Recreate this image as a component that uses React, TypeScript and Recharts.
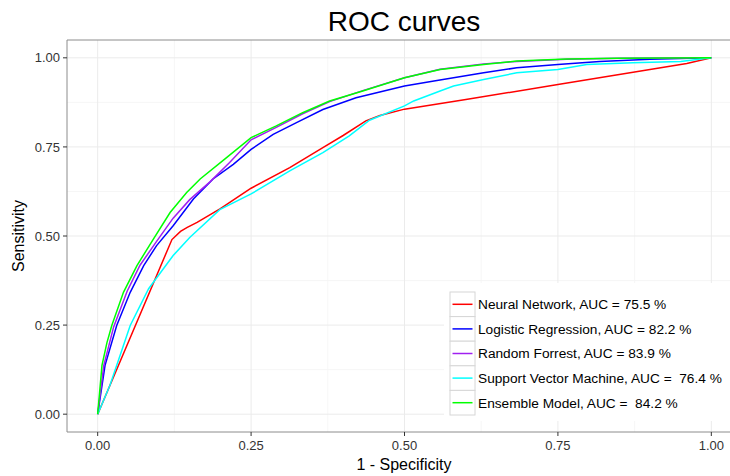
import React from 'react';
import { LineChart, Line, XAxis, YAxis, CartesianGrid, ReferenceArea } from 'recharts';

// ROC points: [1 - specificity, sensitivity]
const neuralNetwork: [number, number][] = [
  [0, 0], [0.121, 0.49], [0.135, 0.513], [0.146, 0.524], [0.162, 0.538], [0.2, 0.577],
  [0.25, 0.634], [0.313, 0.692], [0.367, 0.748], [0.4, 0.782], [0.437, 0.823], [0.46, 0.838],
  [0.5, 0.856], [0.6, 0.883], [0.75, 0.925], [0.9, 0.967], [0.96, 0.984], [1, 1],
];
const logisticRegression: [number, number][] = [
  [0, 0], [0.012, 0.137], [0.031, 0.249], [0.053, 0.342], [0.075, 0.417], [0.096, 0.473],
  [0.123, 0.529], [0.156, 0.604], [0.188, 0.66], [0.221, 0.701], [0.25, 0.743], [0.286, 0.785],
  [0.324, 0.818], [0.367, 0.855], [0.421, 0.888], [0.5, 0.921], [0.548, 0.935], [0.629, 0.958],
  [0.683, 0.972], [0.75, 0.981], [0.818, 0.99], [0.9, 0.996], [1, 1],
];
const randomForrest: [number, number][] = [
  [0, 0], [0.01, 0.137], [0.026, 0.245], [0.048, 0.345], [0.069, 0.418], [0.096, 0.485],
  [0.123, 0.55], [0.15, 0.602], [0.183, 0.652], [0.215, 0.706], [0.25, 0.77], [0.291, 0.805],
  [0.334, 0.843], [0.378, 0.877], [0.432, 0.908], [0.5, 0.944], [0.558, 0.968], [0.629, 0.983],
  [0.683, 0.99], [0.764, 0.996], [0.85, 0.999], [1, 1],
];
const supportVectorMachine: [number, number][] = [
  [0, 0], [0.02, 0.081], [0.053, 0.249], [0.083, 0.352], [0.123, 0.445], [0.15, 0.496],
  [0.199, 0.574], [0.25, 0.618], [0.313, 0.683], [0.367, 0.734], [0.41, 0.781], [0.443, 0.825],
  [0.5, 0.865], [0.515, 0.879], [0.558, 0.907], [0.58, 0.921], [0.629, 0.939], [0.683, 0.958],
  [0.75, 0.967], [0.797, 0.981], [0.872, 0.986], [0.95, 0.99], [1, 1],
];
const ensembleModel: [number, number][] = [
  [0, 0], [0.007, 0.137], [0.015, 0.2], [0.023, 0.249], [0.042, 0.342], [0.064, 0.417],
  [0.091, 0.492], [0.118, 0.566], [0.145, 0.622], [0.167, 0.66], [0.205, 0.713], [0.25, 0.776],
  [0.291, 0.809], [0.334, 0.846], [0.378, 0.879], [0.432, 0.907], [0.5, 0.944], [0.558, 0.967],
  [0.629, 0.981], [0.683, 0.991], [0.764, 0.997], [0.85, 0.999], [1, 1],
];

const seriesNames = [
  'Neural Network, AUC = 75.5 %',
  'Logistic Regression, AUC = 82.2 %',
  'Random Forrest, AUC = 83.9 %',
  'Support Vector Machine, AUC =  76.4 %',
  'Ensemble Model, AUC =  84.2 %',
];
const seriesData = [neuralNetwork, logisticRegression, randomForrest, supportVectorMachine, ensembleModel];
const seriesColors = ['#FF0000', '#0000FF', '#A020F0', '#00FFFF', '#00FF00'];

const axisTicks = [0, 0.25, 0.5, 0.75, 1];
const minorTicks = [0.125, 0.375, 0.625, 0.875];

const FONT = '"Liberation Sans", Arial, Helvetica, sans-serif';

export default function App() {
  const W = 750;
  const H = 476;
  const margin = { top: 40, right: 8, bottom: 14, left: 10 };
  const series = seriesData.map((pts, i) => ({
    name: seriesNames[i],
    color: seriesColors[i],
    data: pts.map(([x, y]) => ({ x, y })),
  }));
  const legendTop = 283;
  const legendLeft = 444;
  const rowH = 24.6;
  return (
    <div style={{ position: 'fixed', left: 0, top: 0, width: 730, height: 476, overflow: 'hidden', background: '#fff', fontFamily: FONT }}>
      <LineChart width={W} height={H} margin={margin}>
        <CartesianGrid
          horizontalValues={minorTicks}
          verticalValues={minorTicks}
          stroke="#f4f4f4"
          strokeWidth={0.8}
        />
        <CartesianGrid
          horizontalValues={axisTicks}
          verticalValues={axisTicks}
          stroke="#ebebeb"
          strokeWidth={1}
        />
        <XAxis
          type="number"
          dataKey="x"
          domain={[-0.05, 1.05]}
          ticks={axisTicks}
          interval={0}
          allowDataOverflow
          axisLine={false}
          tickLine={{ stroke: '#333' }}
          tickSize={4}
          tickMargin={5}
          height={30}
          tickFormatter={(v: number) => v.toFixed(2)}
          tick={{ fill: '#333', fontSize: 13, fontFamily: FONT }}
        />
        <YAxis
          type="number"
          dataKey="y"
          domain={[-0.05, 1.05]}
          ticks={axisTicks}
          interval={0}
          allowDataOverflow
          axisLine={false}
          tickLine={{ stroke: '#333' }}
          tickSize={4}
          tickMargin={3}
          width={57}
          tickFormatter={(v: number) => v.toFixed(2)}
          tick={{ fill: '#333', fontSize: 13, fontFamily: FONT }}
        />
        <ReferenceArea x1={-0.05} x2={1.05} y1={-0.05} y2={1.05} fill="none" stroke="#8c8c8c" strokeWidth={1} ifOverflow="visible" />
        {series.map((s) => (
          <Line
            key={s.name}
            data={s.data}
            dataKey="y"
            type="linear"
            stroke={s.color}
            strokeWidth={1.5}
            dot={false}
            activeDot={false}
            isAnimationActive={false}
          />
        ))}
      </LineChart>
      <svg width={730} height={476} style={{ position: 'absolute', left: 0, top: 0, pointerEvents: 'none' }}>
        <text x={404} y={31} textAnchor="middle" fontSize={28} fontFamily={FONT} fill="#000">ROC curves</text>
        <text x={404} y={470} textAnchor="middle" fontSize={16} fontFamily={FONT} fill="#000">1 - Specificity</text>
        <text x={24} y={236} textAnchor="middle" fontSize={16} fontFamily={FONT} fill="#000" transform="rotate(-90 24 236)">Sensitivity</text>
        <g transform={`translate(${legendLeft},${legendTop})`}>
          <rect x={0} y={0} width={300} height={138} fill="#fff" />
          {series.map((s, i) => {
            const y0 = 9 + i * rowH;
            return (
              <g key={s.name}>
                <rect x={6} y={y0} width={25} height={rowH} fill="#fff" stroke="#d6d6d6" strokeWidth={1} />
                <line x1={8.5} x2={28.5} y1={y0 + rowH / 2} y2={y0 + rowH / 2} stroke={s.color} strokeWidth={1.5} />
                <text x={34} y={y0 + rowH / 2 + 4.8} fontSize={13.7} fontFamily={FONT} fill="#000" style={{ whiteSpace: 'pre' }}>{s.name}</text>
              </g>
            );
          })}
        </g>
      </svg>
    </div>
  );
}
